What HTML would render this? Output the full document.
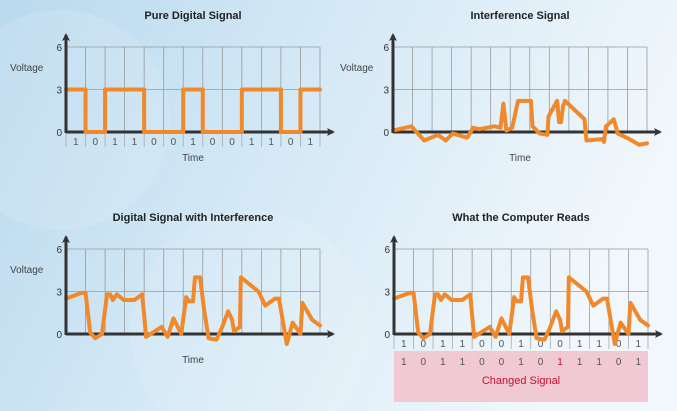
<!DOCTYPE html>
<html><head><meta charset="utf-8"><style>
html,body{margin:0;padding:0;width:677px;height:411px;overflow:hidden}
body{font-family:"Liberation Sans",sans-serif}
svg{display:block}
</style></head><body>
<svg id="c" width="677" height="411" viewBox="0 0 677 411" xmlns="http://www.w3.org/2000/svg">
<defs>
<linearGradient id="bg" x1="0" y1="0" x2="1" y2="0.3">
<stop offset="0" stop-color="#b9d9ee"/><stop offset="0.45" stop-color="#d3e8f5"/><stop offset="1" stop-color="#f1f7fc"/>
</linearGradient>
<marker id="ah" markerWidth="8" markerHeight="8" refX="6" refY="4" orient="auto" markerUnits="userSpaceOnUse"><path d="M0,0 L8,4 L0,8 L2,4 z" fill="#333"/></marker>
</defs>
<rect width="677" height="411" fill="url(#bg)"/>
<circle cx="60" cy="120" r="110" fill="#ffffff" opacity="0.12"/>
<circle cx="250" cy="330" r="120" fill="#ffffff" opacity="0.1"/>
</svg>
<script>
const bits = [1,0,1,1,0,0,1,0,0,1,1,0,1];
const readBits = [1,0,1,1,0,0,1,0,1,1,1,0,1];
const yTicks = [0,3,6];
const interfT = [0,0.94,1.6,2.3,2.7,3.06,3.8,4.1,4.4,5.2,5.5,5.65,5.8,6.1,6.4,7.06,7.14,7.5,7.9,7.96,8.4,8.5,8.6,8.7,8.8,9.8,9.9,10.7,10.8,10.9,11.3,11.5,12.1,12.6,13];
const interfV = [0.1,0.4,-0.6,-0.2,-0.6,-0.1,-0.4,0.3,0.2,0.4,0.3,2.0,0.1,0.3,2.2,2.2,0.4,-0.1,-0.2,1.1,2.2,0.7,0.7,1.8,2.2,0.9,-0.6,-0.5,-0.7,0.4,0.9,-0.1,-0.5,-0.9,-0.8];
const mixT = [0,0.8,1.0,1.24,1.5,1.84,2.1,2.26,2.4,2.6,2.95,3.5,3.9,4.1,4.9,5.2,5.5,5.9,6.15,6.3,6.5,6.6,6.86,7.07,7.3,7.7,7.97,8.3,8.5,8.6,8.9,8.95,9.85,10.2,10.7,10.9,11.3,11.6,12.0,12.1,12.6,13];
const mixV = [2.5,2.9,2.9,0.1,-0.3,0,2.8,2.8,2.4,2.8,2.4,2.4,2.8,-0.2,0.5,-0.2,1.1,0,2.6,2.3,2.3,4.0,4.0,1.7,-0.3,-0.4,0.4,1.6,1.0,0.2,0.5,4.0,3.0,2.0,2.5,2.5,-0.7,0.8,0,2.2,1.0,0.6];

const svg = document.getElementById('c');
const NS = 'http://www.w3.org/2000/svg';
function mk(tag, attrs, parent){const e=document.createElementNS(NS,tag);for(const k in attrs)e.setAttribute(k,attrs[k]);(parent||svg).appendChild(e);return e;}
function txt(s,x,y,opt,parent){const e=mk('text',Object.assign({x:x,y:y,'font-size':10,fill:'#333','font-family':'Liberation Sans, sans-serif'},opt||{}),parent);e.textContent=s;return e;}

function chart(cfg){
  const g = mk('g',{});
  
  
  const x0=cfg.x0, y0=cfg.y0, w=254, h=85, cols=13;
  const xs=t=>x0+t*w/cols, ys=v=>y0-v*h/6;
  for(let i=1;i<=cols;i++){const l=mk('line',{x1:xs(i),y1:ys(6),x2:xs(i),y2:y0,stroke:'#9a9a9a','stroke-width':0.8},g);
    
    }
  yTicks.forEach(v=>{ if(v>0){const l=mk('line',{x1:x0,y1:ys(v),x2:xs(cols),y2:ys(v),stroke:'#9a9a9a','stroke-width':0.8},g);
    
    }
    const t=txt(String(v),x0-4,ys(v)+4,{'text-anchor':'end','font-size':10},g);
    
    
  });
  if(cfg.bits){
    for(let i=0;i<=cols;i++){const l=mk('line',{x1:xs(i),y1:y0,x2:xs(i),y2:y0+15,stroke:'#aaa','stroke-width':0.8},g);
      
      }
    cfg.bits.forEach((b,i)=>{const t=txt(String(b),xs(i+0.5),y0+13,{'text-anchor':'middle',fill:'#555'},g);
      
      });
  }
  if(cfg.read){
    const r=mk('rect',{x:x0,y:y0+17,width:w,height:51,fill:'#f1c9d2'},g);
    
    
    cfg.read.forEach((b,i)=>{const t=txt(String(b),xs(i+0.5),y0+31,{'text-anchor':'middle',fill:b!==cfg.bits[i]?'#c8102e':'#555'},g);
      
      });
    const t=txt('Changed Signal',xs(6.5),y0+50,{'text-anchor':'middle',fill:'#c8102e','font-size':11},g);
    
    
  }
  let pts;
  if(cfg.square){pts=[];cfg.square.forEach((b,i)=>{pts.push([xs(i),ys(b*3)],[xs(i+1),ys(b*3)]);});}
  else pts=cfg.t.map((t,i)=>[xs(t),ys(cfg.v[i])]);
  const ax=mk('line',{x1:x0,y1:y0,x2:x0+267,y2:y0,stroke:'#333','stroke-width':3,'marker-end':'url(#ah)'},g);
  
  
  const p=mk('polyline',{points:pts.map(q=>q.join(',')).join(' '),fill:'none',stroke:'#f0892c','stroke-width':4,'stroke-linejoin':'round','stroke-linecap':'round'},g);
  
  
  const ay=mk('line',{x1:x0,y1:y0+1,x2:x0,y2:y0-97,stroke:'#333','stroke-width':3,'marker-end':'url(#ah)'},g);
  
  
  const ti=txt(cfg.title,xs(6.5),y0-113,{'text-anchor':'middle','font-size':11,'font-weight':'bold',fill:'#222'},g);
  
  
  if(cfg.voltage){const v=txt('Voltage',cfg.vx,y0-61,{'font-size':10,fill:'#444'},g);
    
    }
  if(cfg.time){const tt=txt('Time',xs(6.5),y0+cfg.time,{'text-anchor':'middle','font-size':10,fill:'#444'},g);
    
    }
}
chart({name:'pure-digital-chart',x0:66,y0:132,title:'Pure Digital Signal',square:bits,bits:bits,voltage:true,vx:10,time:29});
chart({name:'interference-chart',x0:393,y0:132,title:'Interference Signal',t:interfT,v:interfV,voltage:true,vx:340,time:29});
chart({name:'digital-with-interference-chart',x0:66,y0:334,title:'Digital Signal with Interference',t:mixT,v:mixV,voltage:true,vx:10,time:29});
chart({name:'computer-reads-chart',x0:394,y0:334,title:'What the Computer Reads',t:mixT,v:mixV,bits:bits,read:readBits,voltage:false});
</script>
</body></html>
